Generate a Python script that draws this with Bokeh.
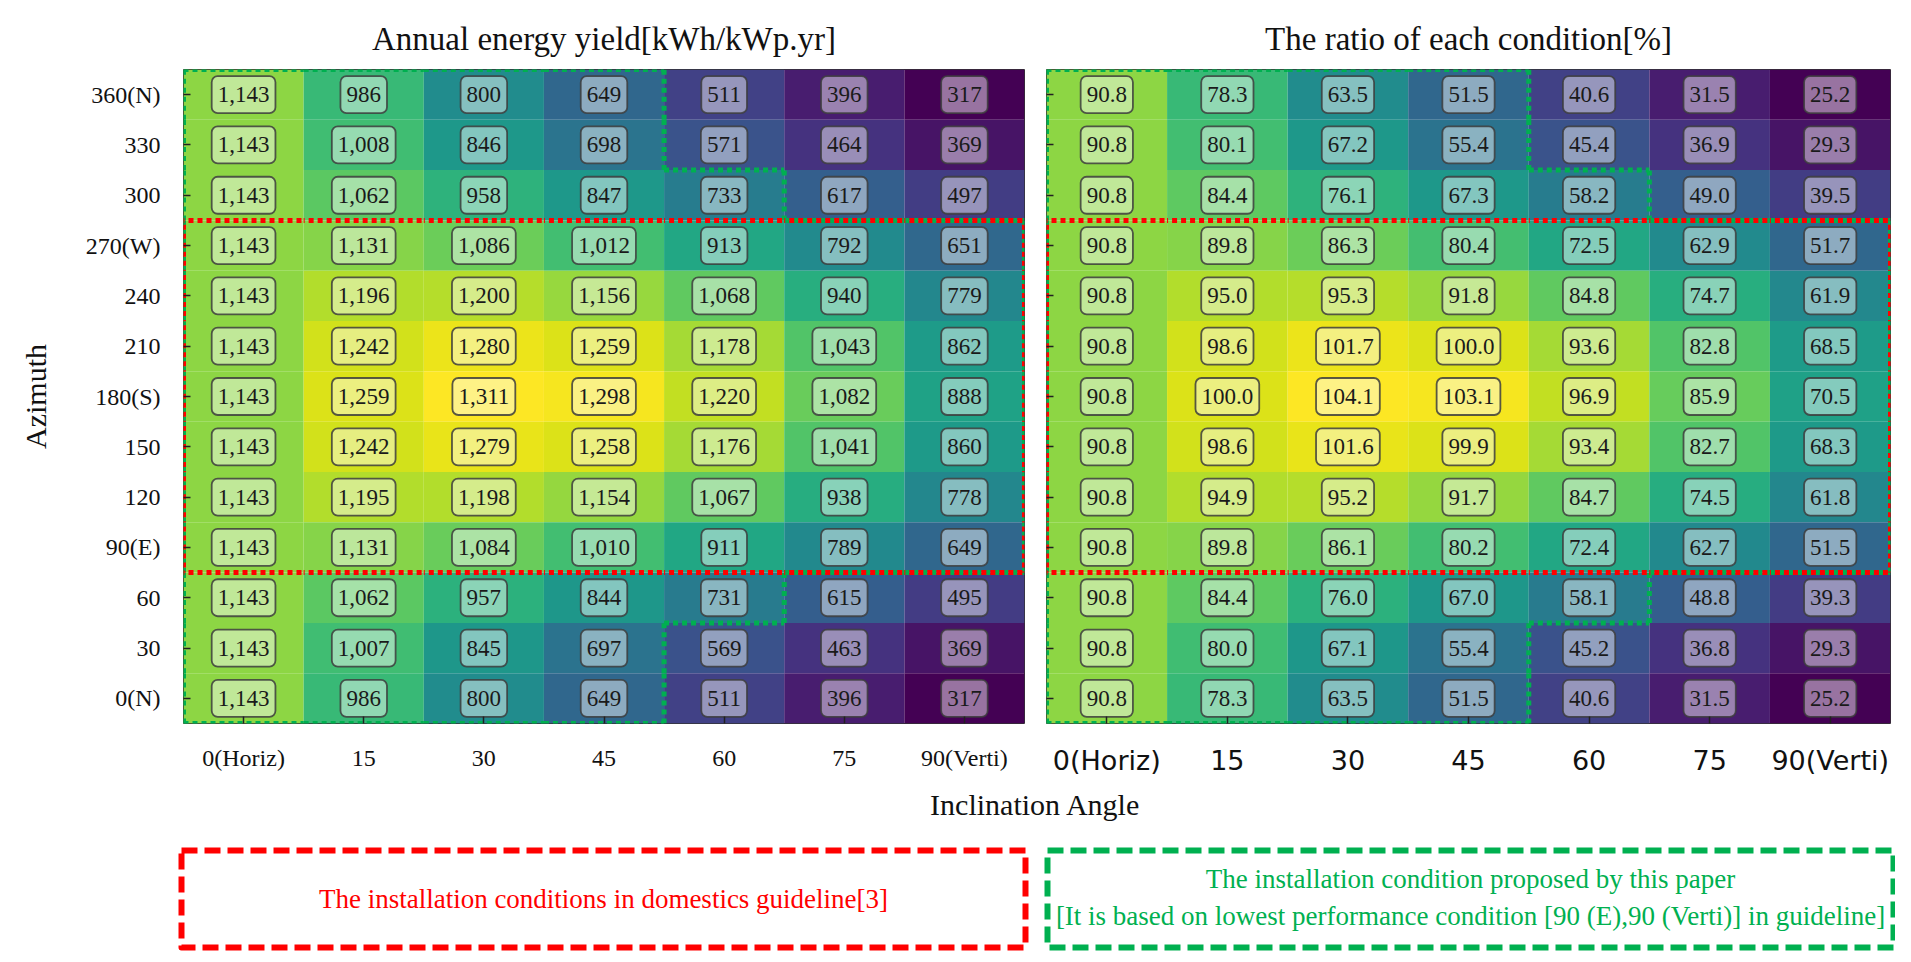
import numpy as np
from bokeh.plotting import figure
from bokeh.layouts import column, row
from bokeh.models import ColumnDataSource, FixedTicker, Range1d
from bokeh.transform import linear_cmap
from bokeh.palettes import Viridis256
from bokeh.core.properties import value
from bokeh.embed import file_html
from bokeh.resources import INLINE

# ---------------- data ----------------
inclination_labels = ["0(Horiz)", "15", "30", "45", "60", "75", "90(Verti)"]
azimuth_labels = ["360(N)", "330", "300", "270(W)", "240", "210", "180(S)",
                  "150", "120", "90(E)", "60", "30", "0(N)"]  # top -> bottom
azimuth_deg = [360, 330, 300, 270, 240, 210, 180, 150, 120, 90, 60, 30, 0]

energy_yield = [
    [1143, 986, 800, 649, 511, 396, 317],
    [1143, 1008, 846, 698, 571, 464, 369],
    [1143, 1062, 958, 847, 733, 617, 497],
    [1143, 1131, 1086, 1012, 913, 792, 651],
    [1143, 1196, 1200, 1156, 1068, 940, 779],
    [1143, 1242, 1280, 1259, 1178, 1043, 862],
    [1143, 1259, 1311, 1298, 1220, 1082, 888],
    [1143, 1242, 1279, 1258, 1176, 1041, 860],
    [1143, 1195, 1198, 1154, 1067, 938, 778],
    [1143, 1131, 1084, 1010, 911, 789, 649],
    [1143, 1062, 957, 844, 731, 615, 495],
    [1143, 1007, 845, 697, 569, 463, 369],
    [1143, 986, 800, 649, 511, 396, 317],
]
ratio = [
    [90.8, 78.3, 63.5, 51.5, 40.6, 31.5, 25.2],
    [90.8, 80.1, 67.2, 55.4, 45.4, 36.9, 29.3],
    [90.8, 84.4, 76.1, 67.3, 58.2, 49.0, 39.5],
    [90.8, 89.8, 86.3, 80.4, 72.5, 62.9, 51.7],
    [90.8, 95.0, 95.3, 91.8, 84.8, 74.7, 61.9],
    [90.8, 98.6, 101.7, 100.0, 93.6, 82.8, 68.5],
    [90.8, 100.0, 104.1, 103.1, 96.9, 85.9, 70.5],
    [90.8, 98.6, 101.6, 99.9, 93.4, 82.7, 68.3],
    [90.8, 94.9, 95.2, 91.7, 84.7, 74.5, 61.8],
    [90.8, 89.8, 86.1, 80.2, 72.4, 62.7, 51.5],
    [90.8, 84.4, 76.0, 67.0, 58.1, 48.8, 39.3],
    [90.8, 80.0, 67.1, 55.4, 45.2, 36.8, 29.3],
    [90.8, 78.3, 63.5, 51.5, 40.6, 31.5, 25.2],
]
guideline_azimuth = (90, 270)   # guideline rows
lowest_cell = ("90(E)", "90(Verti)")  # lowest performance in guideline

title_left = "Annual energy yield[kWh/kWp.yr]"
title_right = "The ratio of each condition[%]"
xlabel = "Inclination Angle"
ylabel = "Azimuth"
legend_red = "The installation conditions in domestics guideline[3]"
legend_green_1 = "The installation condition proposed by this paper"
legend_green_2 = "[It is based on lowest performance condition [90 (E),90 (Verti)] in guideline]"

SERIF = "Liberation Serif"
RED = "#ff0000"
GREEN = "#00b050"

nrow = len(azimuth_labels)
ncol = len(inclination_labels)


def outline_segments(mask):
    """Boundary edges of a boolean cell mask (rows top->bottom)."""
    xs, ys = [], []
    for r in range(nrow):
        for c in range(ncol):
            if not mask[r][c]:
                continue
            yb = nrow - 1 - r
            if r == 0 or not mask[r - 1][c]:
                xs.append([c, c + 1]); ys.append([yb + 1, yb + 1])
            if r == nrow - 1 or not mask[r + 1][c]:
                xs.append([c, c + 1]); ys.append([yb, yb])
            if c == 0 or not mask[r][c - 1]:
                xs.append([c, c]); ys.append([yb, yb + 1])
            if c == ncol - 1 or not mask[r][c + 1]:
                xs.append([c + 1, c + 1]); ys.append([yb, yb + 1])
    return xs, ys


def heatmap(values, title, fmt, show_ylabels, tick_font, tick_size,
            border_left, border_right, fw):
    vals = np.array(values, dtype=float)
    xc, yc, v, txt = [], [], [], []
    for r in range(nrow):
        for c in range(ncol):
            xc.append(c + 0.5)
            yc.append(nrow - 1 - r + 0.5)
            v.append(vals[r, c])
            txt.append(fmt(vals[r, c]))
    src = ColumnDataSource(dict(x=xc, y=yc, v=v, t=txt))

    p = figure(x_range=Range1d(0, ncol), y_range=Range1d(0, nrow),
               frame_width=fw, frame_height=654,
               min_border_left=border_left, min_border_right=border_right,
               min_border_top=69, min_border_bottom=66,
               output_backend="svg", toolbar_location=None,
               title=title)
    p.title.align = "center"
    p.title.text_font = SERIF
    p.title.text_font_size = "33px"
    p.title.text_font_style = "normal"
    p.title.text_color = "#111111"
    p.title.standoff = 26

    p.rect("x", "y", width=1, height=1, source=src,
           fill_color=linear_cmap("v", Viridis256, vals.min(), vals.max()),
           line_color=None)

    p.text("x", "y", text="t", source=src,
           text_align="center", text_baseline="middle",
           text_font=value(SERIF), text_font_size="23px", text_color="#1a1a1a",
           background_fill_color="white", background_fill_alpha=0.45,
           border_line_color="#3d3d3d", border_line_width=1.8, border_line_alpha=0.85,
           border_radius=6, padding=(6, 11))

    red_mask = [[guideline_azimuth[0] <= azimuth_deg[r] <= guideline_azimuth[1]
                 for c in range(ncol)] for r in range(nrow)]
    thr = vals[azimuth_labels.index(lowest_cell[0]), inclination_labels.index(lowest_cell[1])]
    green_mask = [[vals[r, c] >= thr for c in range(ncol)] for r in range(nrow)]

    gx, gy = outline_segments(green_mask)
    p.multi_line(gx, gy, line_color=GREEN, line_width=5, line_dash="5 4")
    rx, ry = outline_segments(red_mask)
    p.multi_line(rx, ry, line_color=RED, line_width=5, line_dash="5 4",
                 line_dash_offset=4)

    p.xaxis.ticker = FixedTicker(ticks=[i + 0.5 for i in range(ncol)])
    p.xaxis.major_label_overrides = {i + 0.5: lab for i, lab in enumerate(inclination_labels)}
    p.yaxis.ticker = FixedTicker(ticks=[i + 0.5 for i in range(nrow)])
    if show_ylabels:
        p.yaxis.major_label_overrides = {nrow - 1 - i + 0.5: lab for i, lab in enumerate(azimuth_labels)}
        p.yaxis.major_label_text_font = SERIF
        p.yaxis.major_label_text_font_size = "24px"
        p.yaxis.major_label_text_color = "#111111"
        p.yaxis.axis_label = ylabel
        p.yaxis.axis_label_text_font = SERIF
        p.yaxis.axis_label_text_font_size = "30px"
        p.yaxis.axis_label_text_font_style = "normal"
        p.yaxis.axis_label_text_color = "#111111"
        p.yaxis.axis_label_standoff = 31
        p.yaxis.major_label_standoff = 23
    else:
        p.yaxis.major_label_overrides = {i + 0.5: "" for i in range(nrow)}
        p.yaxis.major_label_standoff = 0

    p.xaxis.major_label_text_font = tick_font
    p.xaxis.major_label_text_font_size = tick_size
    p.xaxis.major_label_text_color = "#111111"
    p.xaxis.major_label_standoff = 21

    for ax in (p.xaxis, p.yaxis):
        ax.axis_line_color = None
        ax.major_tick_in = 7
        ax.major_tick_out = 0
        ax.major_tick_line_color = "#222222"
        ax.major_tick_line_width = 1.5
        ax.minor_tick_line_color = None

    p.grid.visible = False
    p.outline_line_color = "#333333"
    p.outline_line_width = 1
    return p


p1 = heatmap(energy_yield, title_left, lambda x: f"{int(round(x)):,}", True,
             SERIF, "24px", 183, 11, 841)
p2 = heatmap(ratio, title_right, lambda x: f"{x:.1f}", False,
             "DejaVu Sans", "27px", 11, 5, 844)

# bottom: x-axis label and the two legend boxes
W3, H3 = 1895, 170
p3 = figure(width=W3, height=H3, x_range=Range1d(0, W3), y_range=Range1d(H3, 0),
            min_border=0, output_backend="svg", toolbar_location=None)
p3.axis.visible = False
p3.grid.visible = False
p3.outline_line_color = None

p3.text([1035], [15], text=[xlabel], text_align="center", text_baseline="middle",
        text_font=value(SERIF), text_font_size="30px", text_color="#111111")

p3.quad(left=[181], right=[1025], top=[61], bottom=[158], fill_color=None,
        line_color=RED, line_width=6, line_dash="16 7", line_join="round")
p3.quad(left=[1047], right=[1893], top=[61], bottom=[158], fill_color=None,
        line_color=GREEN, line_width=6, line_dash="16 7", line_join="round")

p3.text([603], [109], text=[legend_red], text_align="center", text_baseline="middle",
        text_font=value(SERIF), text_font_size="27px", text_color=RED)
p3.text([1470, 1470], [89, 126], text=[legend_green_1, legend_green_2],
        text_align="center", text_baseline="middle",
        text_font=value(SERIF), text_font_size="27px", text_color=GREEN)

layout = column(row(p1, p2, spacing=0), p3, spacing=0)

open("out.html", "w").write(file_html(layout, INLINE))
